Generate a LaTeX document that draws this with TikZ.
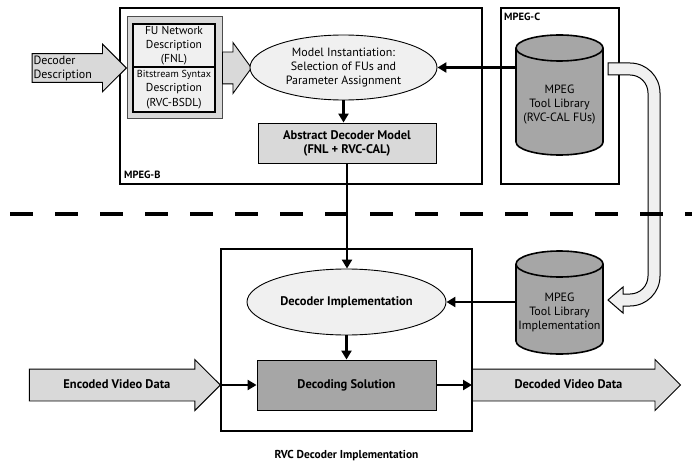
\documentclass[tikz,border=0pt]{standalone}
\usepackage{fontspec}
\setmainfont{PT Sans}
\usetikzlibrary{arrows.meta,
                shapes.arrows,
                shapes.geometric,
                positioning}

\definecolor{lightfill}{HTML}{F0F0F0}
\definecolor{midfill}{HTML}{D9D9D9}
\definecolor{darkfill}{HTML}{A6A6A6}

% cylinder drawn round an empty body node
\newcommand{\drawdrum}[1]{%
 \draw[drum] ([yshift=-13pt]#1.north west) -- ([yshift=13pt]#1.south west)
   arc[start angle=180,end angle=360,x radius=43.5pt,y radius=13pt]
   -- ([yshift=-13pt]#1.north east)
   arc[start angle=0,end angle=180,x radius=43.5pt,y radius=13pt] -- cycle;
 \draw[drum,fill=none] ([yshift=-13pt]#1.north west)
   arc[start angle=180,end angle=360,x radius=43.5pt,y radius=13pt];}

\begin{document}
\begin{tikzpicture}[x=1pt,y=1pt,
 every node/.style={font=\fontsize{12}{14}\selectfont},
 frame/.style={draw,line width=2.6pt,inner sep=0pt,outer sep=0pt},
 tag/.style={font=\fontsize{10.5}{12}\selectfont\bfseries,inner sep=0pt},
 bubble/.style={ellipse,draw,line width=0.9pt,fill=lightfill,align=center,inner sep=0pt},
 plate/.style={rectangle,draw,line width=0.9pt,fill=#1,align=center,
               font=\fontsize{12.5}{14}\selectfont\bfseries},
 descbox/.style={draw,line width=2pt,fill=lightfill,align=center,inner sep=0pt,
                 outer sep=0pt,minimum width=82pt,font=\fontsize{11.5}{14.3}\selectfont},
 bigarrow/.style={single arrow,draw,line width=0.9pt,fill=midfill,
                  single arrow head extend=9.5pt,inner xsep=1pt,inner ysep=1.5pt},
 flatarrow/.style={bigarrow,text height=9pt,text depth=3pt,inner ysep=9.5pt,
                   font=\fontsize{12.5}{14}\selectfont\bfseries},
 drumbody/.style={minimum width=87pt,inner sep=0pt,outer sep=0pt},
 drum/.style={draw,line width=1.6pt,fill=darkfill},
 conn/.style={line width=2.6pt,-{Triangle[length=9pt,width=10pt]}},
 bendarrow/.style={draw,line width=1pt,fill=lightfill},
 divider/.style={line width=4.5pt,dash pattern=on 23pt off 22pt}]
 \useasboundingbox (0,0) rectangle (692,464);

 % standards boxes
 \node[frame,minimum width=362pt,minimum height=176pt] (mpegB) at (301,368) {};
 \node[frame,minimum width=118pt,minimum height=176pt] (mpegC) at (560,368) {};
 \node[tag,anchor=south west] (mpegBtag) at ([shift={(4pt,5pt)}]mpegB.south west) {MPEG-B};
 \node[tag,anchor=north west] (mpegCtag) at ([shift={(3pt,-5pt)}]mpegC.north west) {MPEG-C};

 % decoder description
 \node[draw=black!70,line width=1pt,fill=midfill,minimum width=95pt,minimum height=102pt,
       inner sep=0pt,outer sep=0pt] (descGroup) at (174.5,396) {};
 \node[descbox,minimum height=43pt] (fnlDesc) at (174,418.5) {FU Network\\Description\\(FNL)};
 \node[descbox,minimum height=45pt,below=0pt of fnlDesc]
   (bsdlDesc) {{\fontsize{10.2}{14.3}\selectfont Bitstream Syntax}\\Description\\(RVC-BSDL)};
 \node[bigarrow,anchor=tip,text width=77pt,align=left]
   (decDesc) at (descGroup.west) {Decoder\\Description};
 \node[bigarrow,anchor=tail,minimum height=29pt,text height=0pt,text depth=0pt,
       inner xsep=0pt,inner ysep=15.5pt,single arrow tip angle=108]
   (feedArrow) at (descGroup.east) {};

 \node[bubble,minimum width=187pt,minimum height=65pt] (modelInst) at (343.5,396.5)
   {Model Instantiation:\\Selection of FUs and\\Parameter Assignment};
 \node[plate=midfill,minimum width=178pt,minimum height=40pt] (absModel) at (347,321)
   {Abstract Decoder Model\\(FNL + RVC-CAL)};

 % tool library
 \node[drumbody,minimum height=120pt] (libC) at (559.5,369) {};
 \drawdrum{libC}
 \node[align=center] (libCtext) at (559.5,359) {MPEG\\Tool Library\\(RVC-CAL FUs)};

 % library hand-over
 \draw[bendarrow] (608,401) -- (630,401) arc[start angle=90,end angle=0,radius=30pt]
   -- (660,188) arc[start angle=0,end angle=-90,radius=30pt] -- (623,158) -- (623,151)
   -- (608,164) -- (623,177) -- (623,170) -- (630,170)
   arc[start angle=-90,end angle=0,radius=18pt] -- (648,371)
   arc[start angle=0,end angle=90,radius=18pt] -- (608,389) -- cycle;

 \draw[divider] (10,250) -- (692,250);

 % implementation
 \node[frame,minimum width=251pt,minimum height=182pt] (rvcBox) at (346.5,124) {};
 \node[tag,font=\fontsize{11.5}{12}\selectfont\bfseries,below=19pt of rvcBox] (rvcTag)
   {RVC Decoder Implementation};
 \node[bubble,minimum width=199pt,minimum height=66pt,font=\fontsize{12.5}{14}\selectfont\bfseries]
   (decImpl) at (346.5,162) {Decoder Implementation};
 \node[plate=darkfill,minimum width=179pt,minimum height=50pt] (decSol) at (346.5,79)
   {Decoding Solution};
 \node[drumbody,minimum height=103pt] (libImpl) at (559.5,161.5) {};
 \drawdrum{libImpl}
 \node[align=center] (libImpltext) at (559.5,152) {MPEG\\Tool Library\\Implementation};

 \node[flatarrow,anchor=tip,minimum height=191pt]
   (videoIn) at (rvcBox.west |- decSol.west) {Encoded Video Data};
 \node[flatarrow,anchor=tail,minimum height=208pt]
   (videoOut) at (rvcBox.east |- decSol.east) {Decoded Video Data};

 % connectors
 \draw[conn] (libC.west |- modelInst.east) -- (modelInst.east);
 \draw[conn] (modelInst.south) -- (modelInst.south |- absModel.north);
 \draw[conn] (absModel.south) -- (absModel.south |- decImpl.north);
 \draw[conn] (libImpl.west |- decImpl.east) -- (decImpl.east);
 \draw[conn] (decImpl.south) -- (decSol.north);
 \draw[conn] (videoIn.tip) -- (decSol.west);
 \draw[conn] (decSol.east) -- (videoOut.tail);
\end{tikzpicture}
\end{document}
